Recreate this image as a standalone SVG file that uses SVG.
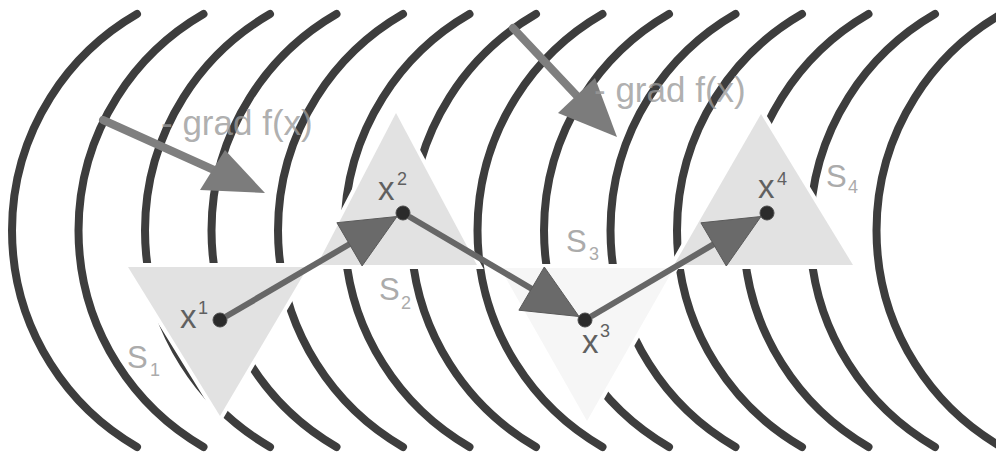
<svg xmlns="http://www.w3.org/2000/svg" xmlns:xlink="http://www.w3.org/1999/xlink" width="996" height="454" viewBox="0 0 996 454">
<style>
.arc{fill:none;stroke:#3d3d3d;stroke-width:8;stroke-linecap:round}
.tri{fill:#e2e2e2;stroke:#ffffff;stroke-width:8;stroke-linejoin:miter;paint-order:stroke}
.tri3{fill:#f6f6f6;stroke:#ffffff;stroke-width:8;stroke-linejoin:miter;paint-order:stroke}
.dot{fill:#2b2b2b;stroke:#4a4a4a;stroke-width:1}
.xl{font-family:"Liberation Sans",Arial,sans-serif;font-size:33px;fill:#606060}
.sl{font-family:"Liberation Sans",Arial,sans-serif;font-size:31px;fill:#ababab}
.sup{font-size:18px}
.step{stroke:#676767;stroke-width:6;fill:none}
.head{fill:#6a6a6a;stroke:#5a5a5a;stroke-width:1;stroke-linejoin:miter}
.gshaft{stroke:#7f7f7f;stroke-width:8;stroke-linecap:round;fill:none}
.ghead{fill:#7c7c7c}
.gt{font-family:"Liberation Sans",Arial,sans-serif;font-size:35px;fill:#9a9a9a;fill-opacity:0.8}
</style>
<defs>
<path id="arc" class="arc" d="M137 14 A250 250 0 0 0 137 447"/>
</defs>
<g id="contours">
<use xlink:href="#arc" href="#arc" x="0"/>
<use xlink:href="#arc" href="#arc" x="66.5"/>
<use xlink:href="#arc" href="#arc" x="133"/>
<use xlink:href="#arc" href="#arc" x="199.5"/>
<use xlink:href="#arc" href="#arc" x="266"/>
<use xlink:href="#arc" href="#arc" x="332.5"/>
<use xlink:href="#arc" href="#arc" x="399"/>
<use xlink:href="#arc" href="#arc" x="465.5"/>
<use xlink:href="#arc" href="#arc" x="532"/>
<use xlink:href="#arc" href="#arc" x="598.5"/>
<use xlink:href="#arc" href="#arc" x="665"/>
<use xlink:href="#arc" href="#arc" x="731.5"/>
<use xlink:href="#arc" href="#arc" x="798"/>
<use xlink:href="#arc" href="#arc" x="864.5"/>
</g>
<g id="gradients">
<line class="gshaft" x1="103" y1="120" x2="214" y2="170"/>
<polygon class="ghead" points="265,193 200,190 225,150"/>
<line class="gshaft" x1="513" y1="28" x2="578" y2="97"/>
<polygon class="ghead" points="617,137 558,113 595,78"/>
<text class="gt" x="161" y="135">- grad f(x)</text>
<text class="gt" x="594" y="102">- grad f(x)</text>
</g>
<g id="S1">
<polygon class="tri" points="128,267 308,267 220,416"/>
<text class="sl" x="127" y="368">S<tspan class="sup" x="150" y="376">1</tspan></text>
<text class="xl" x="180" y="328">x<tspan class="sup" x="198" y="314">1</tspan></text>
<circle class="dot" cx="220" cy="320" r="7"/>
</g>
<g id="S2">
<polygon class="tri" points="396,113 317,265 477,265"/>
<text class="sl" x="379" y="300">S<tspan class="sup" x="401" y="309">2</tspan></text>
<text class="xl" x="378" y="200">x<tspan class="sup" x="397" y="185">2</tspan></text>
<circle class="dot" cx="403" cy="213" r="7"/>
</g>
<g id="S3">
<polygon class="tri3" points="500,268 674,268 587,421"/>
<text class="sl" x="566" y="252">S<tspan class="sup" x="589" y="260">3</tspan></text>
<text class="xl" x="582" y="353">x<tspan class="sup" x="600" y="337">3</tspan></text>
<circle class="dot" cx="585" cy="320" r="7"/>
</g>
<g id="S4">
<polygon class="tri" points="761,114 674,265 853,265"/>
<text class="sl" x="826" y="187">S<tspan class="sup" x="848" y="193">4</tspan></text>
<text class="xl" x="758" y="198">x<tspan class="sup" x="777" y="185">4</tspan></text>
<circle class="dot" cx="767" cy="213" r="7"/>
</g>
<g id="connectors">
<line class="step" x1="226" y1="316.5" x2="354" y2="241.5"/>
<polygon class="head" points="397,216.5 362.1,265.9 336.9,222.7"/>
<line class="step" x1="409" y1="216.5" x2="536" y2="291.3"/>
<polygon class="head" points="579,316.5 518.9,310.2 544.3,267"/>
<line class="step" x1="591" y1="316.5" x2="718" y2="241.7"/>
<polygon class="head" points="761,216.5 726.3,266 700.9,222.8"/>
</g>
</svg>
